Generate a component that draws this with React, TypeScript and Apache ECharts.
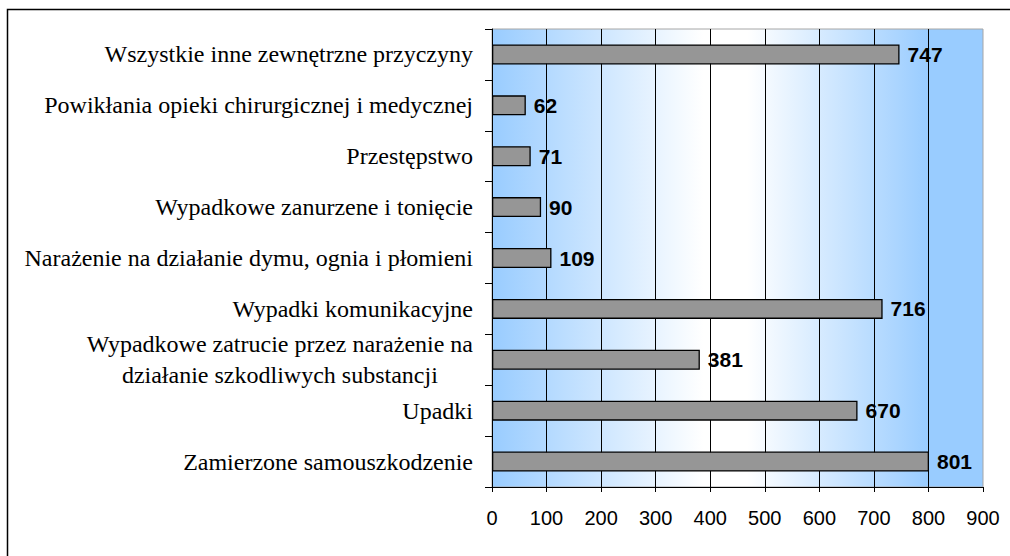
import React, { useEffect, useRef } from "react";
import * as echarts from "echarts";

const categories: string[] = [
  "Wszystkie inne zewnętrzne przyczyny",
  "Powikłania opieki chirurgicznej i medycznej",
  "Przestępstwo",
  "Wypadkowe zanurzene i tonięcie",
  "Narażenie na działanie dymu, ognia i płomieni",
  "Wypadki komunikacyjne",
  "Wypadkowe zatrucie przez narażenie na\ndziałanie szkodliwych substancji",
  "Upadki",
  "Zamierzone samouszkodzenie",
];

const values: number[] = [747, 62, 71, 90, 109, 716, 381, 670, 801];

const xMin = 0;
const xMax = 900;
const xInterval = 100;

const SERIF = "'Liberation Serif', 'Times New Roman', serif";
const SANS = "'Liberation Sans', Arial, sans-serif";

export default function App() {
  const ref = useRef<HTMLDivElement>(null);

  useEffect(() => {
    if (!ref.current) return;
    const chart = echarts.init(ref.current, null, { renderer: "svg" });
    const option: any = {
      animation: false,
      backgroundColor: "#ffffff",
      graphic: [
        {
          type: "rect",
          shape: { x: 7.5, y: 9.5, width: 1100, height: 700 },
          style: { fill: "none", stroke: "#000000", lineWidth: 1.5 },
          silent: true,
          z: -1,
        },
      ],
      grid: {
        left: 492,
        top: 29,
        width: 491,
        height: 458,
        show: true,
        borderColor: "#A6A6A6",
        borderWidth: 1,
        backgroundColor: new echarts.graphic.LinearGradient(0, 0, 1, 0, [
          { offset: 0, color: "#99CCFF" },
          { offset: 0.43, color: "#FFFFFF" },
          { offset: 0.52, color: "#FFFFFF" },
          { offset: 0.89, color: "#99CCFF" },
          { offset: 1, color: "#99CCFF" },
        ]),
      },
      xAxis: {
        type: "value",
        min: xMin,
        max: xMax,
        interval: xInterval,
        axisLine: { show: true, lineStyle: { color: "#000000", width: 1 } },
        axisTick: { show: true, length: 5, lineStyle: { color: "#000000" } },
        axisLabel: {
          margin: 21,
          color: "#000000",
          fontFamily: SANS,
          fontSize: 20,
        },
        splitLine: {
          show: true,
          showMinLine: false,
          showMaxLine: false,
          lineStyle: { color: "#000000", width: 1 },
        },
      },
      yAxis: {
        type: "category",
        inverse: true,
        data: categories,
        axisLine: { show: true, lineStyle: { color: "#000000", width: 1 } },
        axisTick: { show: true, length: 7, lineStyle: { color: "#000000" } },
        axisLabel: {
          margin: 19,
          color: "#000000",
          fontFamily: SERIF,
          fontSize: 24,
          formatter: (v: string) => {
            if (v.indexOf("\n") >= 0) {
              return v
                .split("\n")
                .map((l) => "{c|" + l + "}")
                .join("\n");
            }
            return v;
          },
          rich: {
            c: {
              align: "center",
              fontFamily: SERIF,
              fontSize: 24,
              lineHeight: 31,
              color: "#000000",
            },
          },
        },
        splitLine: { show: false },
      },
      series: [
        {
          type: "bar",
          data: values,
          barWidth: 20,
          itemStyle: {
            color: "#969696",
            borderColor: "#000000",
            borderWidth: 1.3,
          },
          label: {
            show: true,
            position: "right",
            distance: 8,
            color: "#000000",
            fontFamily: SANS,
            fontWeight: "bold",
            fontSize: 21,
          },
        },
      ],
    };
    chart.setOption(option);
    return () => chart.dispose();
  }, []);

  return (
    <div
      ref={ref}
      style={{ position: "fixed", left: 0, top: 0, width: 1010, height: 556 }}
    />
  );
}
